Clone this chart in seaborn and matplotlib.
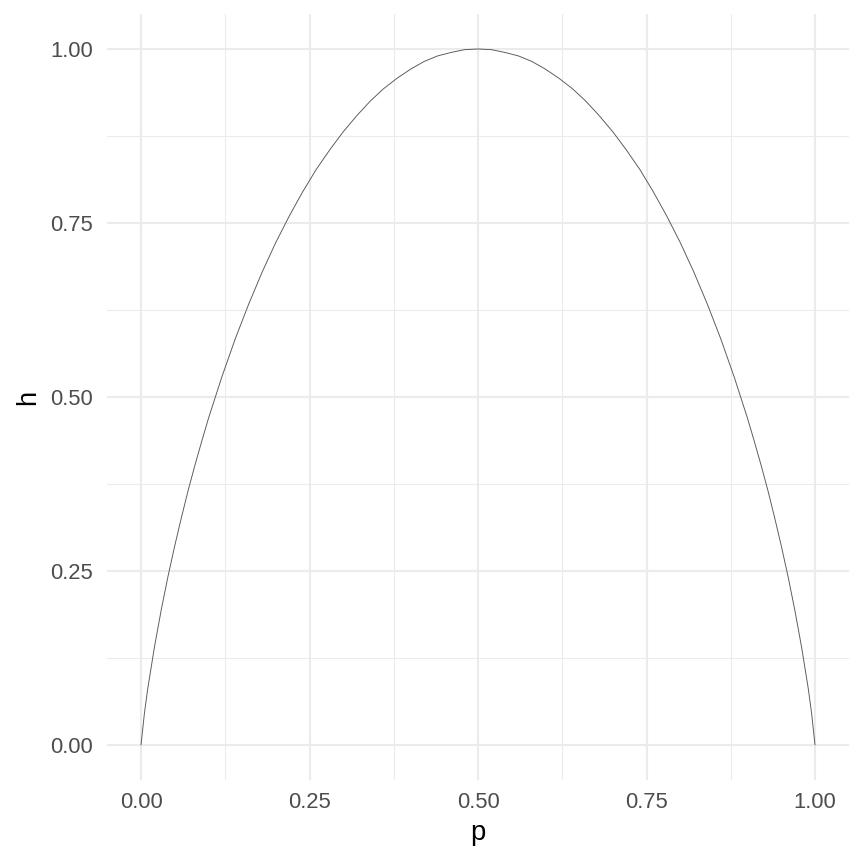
import matplotlib
matplotlib.use("Agg")
import matplotlib.pyplot as plt
import seaborn as sns
import pandas as pd
from matplotlib.ticker import FixedLocator

# values
p = [0.00, 0.005, 0.01, 0.02, 0.03, 0.04, 0.05, 0.06, 0.07, 0.08, 0.09, 0.10,
     0.12, 0.14, 0.16, 0.18, 0.20, 0.22, 0.24, 0.26, 0.28, 0.30, 0.32, 0.34,
     0.36, 0.38, 0.40, 0.42, 0.44, 0.46, 0.48, 0.50,
     0.52, 0.54, 0.56, 0.58, 0.60, 0.62, 0.64, 0.66, 0.68, 0.70, 0.72, 0.74,
     0.76, 0.78, 0.80, 0.82, 0.84, 0.86, 0.88, 0.90, 0.91, 0.92, 0.93, 0.94,
     0.95, 0.96, 0.97, 0.98, 0.99, 0.995, 1.00]
h = [0.000, 0.045, 0.081, 0.141, 0.194, 0.242, 0.286, 0.327, 0.366, 0.402, 0.436, 0.469,
     0.529, 0.584, 0.634, 0.680, 0.722, 0.760, 0.795, 0.827, 0.855, 0.881, 0.904, 0.925,
     0.943, 0.958, 0.971, 0.982, 0.990, 0.995, 0.999, 1.000,
     0.999, 0.995, 0.990, 0.982, 0.971, 0.958, 0.943, 0.925, 0.904, 0.881, 0.855, 0.827,
     0.795, 0.760, 0.722, 0.680, 0.634, 0.584, 0.529, 0.469, 0.436, 0.402, 0.366, 0.327,
     0.286, 0.242, 0.194, 0.141, 0.081, 0.045, 0.000]
tick_vals = [0.00, 0.25, 0.50, 0.75, 1.00]
tick_labels = ["0.00", "0.25", "0.50", "0.75", "1.00"]
minor_vals = [0.125, 0.375, 0.625, 0.875]

df = pd.DataFrame({"p": p, "h": h})

sns.set_theme(style="white")
plt.rcParams["font.family"] = ["Liberation Sans", "DejaVu Sans"]

fig = plt.figure(figsize=(9, 9), dpi=96)
ax = fig.add_axes([0.1242, 0.0975, 0.8581, 0.8861])

sns.lineplot(data=df, x="p", y="h", ax=ax, color="#595959", linewidth=0.7)

ax.set_xlim(-0.05, 1.05)
ax.set_ylim(-0.05, 1.05)
ax.xaxis.set_major_locator(FixedLocator(tick_vals))
ax.yaxis.set_major_locator(FixedLocator(tick_vals))
ax.set_xticklabels(tick_labels)
ax.set_yticklabels(tick_labels)
ax.xaxis.set_minor_locator(FixedLocator(minor_vals))
ax.yaxis.set_minor_locator(FixedLocator(minor_vals))

ax.grid(which="major", color="#EBEBEB", linewidth=1.6)
ax.grid(which="minor", color="#EBEBEB", linewidth=0.8)
ax.set_axisbelow(True)
for s in ax.spines.values():
    s.set_visible(False)
ax.tick_params(which="both", length=0, labelsize=16.5, labelcolor="#4D4D4D")
ax.tick_params(axis="x", pad=9.5)
ax.tick_params(axis="y", pad=10.5)

ax.set_xlabel("p", fontsize=20.5, color="black", labelpad=5)
ax.set_ylabel("h", fontsize=20.5, color="black", labelpad=7)

fig.savefig("out.png", dpi=96, facecolor="white")
